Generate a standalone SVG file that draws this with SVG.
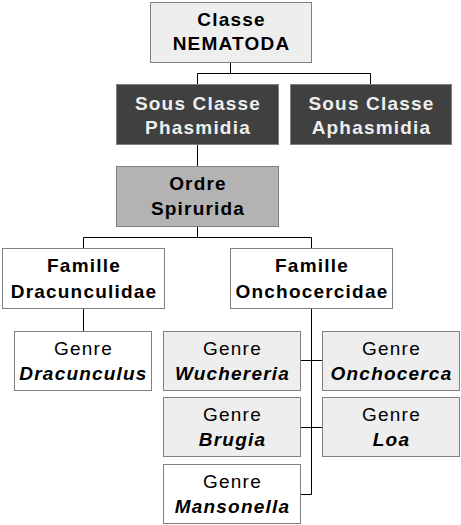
<svg xmlns="http://www.w3.org/2000/svg" width="461" height="525" viewBox="0 0 461 525">
<style>
rect{stroke:#808080;stroke-width:1}
.l1{fill:#eeeeee}
.dk{fill:#404040}
.md{fill:#b3b3b3}
.wh{fill:#ffffff}
text{font-family:"Liberation Sans",Arial,sans-serif;font-size:19px;letter-spacing:1.2px;text-anchor:middle;fill:#000}
.b{font-weight:bold}
.bi{font-weight:bold;font-style:italic}
.inv{fill:#eeeeee}
#connectors path{stroke:#000;stroke-width:1;fill:none}
</style>
<g id="connectors">
<path d="M230.5 62.5V73.5M197.5 84.5V73.5H370.5V84.5"/>
<path d="M197.5 144.5V166.5"/>
<path d="M197.5 226.5V237.5M83.5 248.5V237.5H311.5V248.5"/>
<path d="M83.5 308.5V331.5"/>
<path d="M311.5 308.5V494.5H300.5M300.5 360.5H322.5M300.5 427.5H322.5"/>
</g>
<g id="classe"><rect class="l1" x="150.5" y="2.5" width="161" height="60"/><text class="b" x="231.5" y="26">Classe</text><text class="b" x="231.5" y="50">NEMATODA</text></g>
<g id="phasmidia"><rect class="dk" x="116.5" y="84.5" width="162" height="60"/><text class="b inv" x="198" y="109.5">Sous Classe</text><text class="b inv" x="198" y="134">Phasmidia</text></g>
<g id="aphasmidia"><rect class="dk" x="290.5" y="84.5" width="161" height="60"/><text class="b inv" x="371.5" y="109.5">Sous Classe</text><text class="b inv" x="371.5" y="134">Aphasmidia</text></g>
<g id="spirurida"><rect class="md" x="116.5" y="166.5" width="162" height="60"/><text class="b" x="198" y="190">Ordre</text><text class="b" x="198" y="215">Spirurida</text></g>
<g id="dracunculidae"><rect class="wh" x="2.5" y="248.5" width="162" height="60"/><text class="b" x="84" y="272">Famille</text><text class="b" x="84" y="297.5">Dracunculidae</text></g>
<g id="onchocercidae"><rect class="wh" x="230.5" y="248.5" width="162" height="60"/><text class="b" x="312" y="272">Famille</text><text class="b" x="312" y="297.5">Onchocercidae</text></g>
<g id="dracunculus"><rect class="wh" x="14.5" y="331.5" width="137" height="59"/><text x="83.5" y="354.5">Genre</text><text class="bi" x="83.5" y="379.5">Dracunculus</text></g>
<g id="wuchereria"><rect class="l1" x="163.5" y="331.5" width="137" height="59"/><text x="232.5" y="354.5">Genre</text><text class="bi" x="232.5" y="379.5">Wuchereria</text></g>
<g id="onchocerca"><rect class="l1" x="322.5" y="331.5" width="137" height="59"/><text x="391.5" y="354.5">Genre</text><text class="bi" x="391.5" y="379.5">Onchocerca</text></g>
<g id="brugia"><rect class="l1" x="163.5" y="397.5" width="137" height="59"/><text x="232.5" y="420.5">Genre</text><text class="bi" x="232.5" y="445.5">Brugia</text></g>
<g id="loa"><rect class="l1" x="322.5" y="397.5" width="137" height="59"/><text x="391.5" y="420.5">Genre</text><text class="bi" x="391.5" y="445.5">Loa</text></g>
<g id="mansonella"><rect class="wh" x="163.5" y="464.5" width="137" height="59"/><text x="232.5" y="487.5">Genre</text><text class="bi" x="232.5" y="512.5">Mansonella</text></g>
</svg>
